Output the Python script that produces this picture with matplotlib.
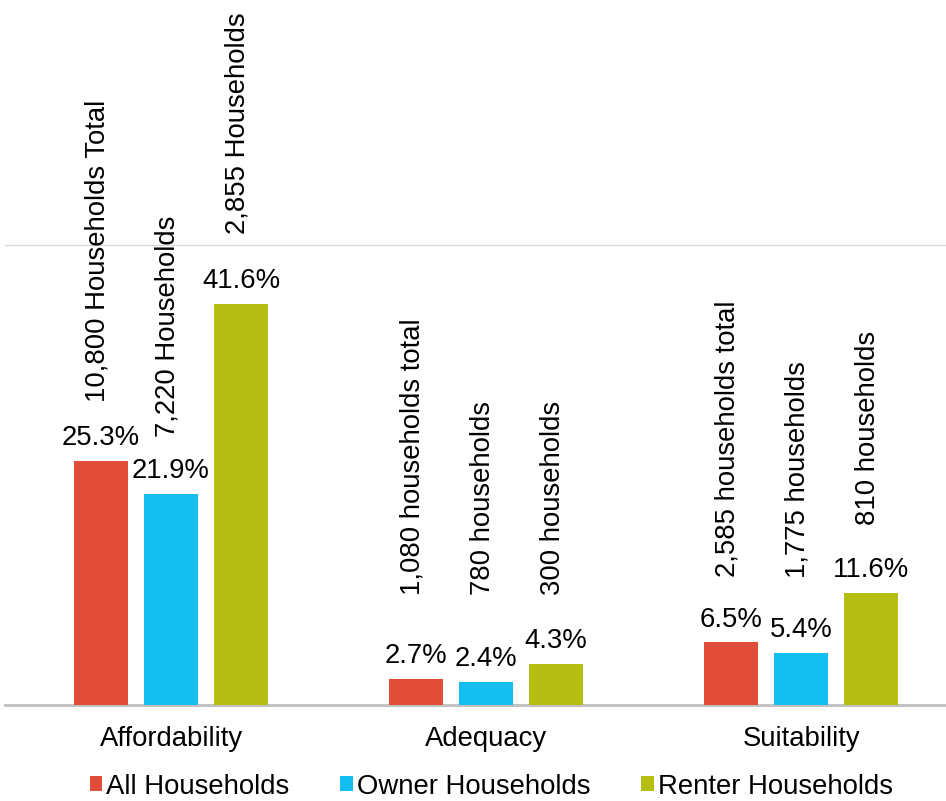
import matplotlib.pyplot as plt
import numpy as np

plt.rcParams['font.family'] = ['Liberation Sans', 'DejaVu Sans']

# categories and series (percent of households)
categories = ['Affordability', 'Adequacy', 'Suitability']
series_names = ['All Households', 'Owner Households', 'Renter Households']
all_hh = [25.3, 2.7, 6.5]
owner_hh = [21.9, 2.4, 5.4]
renter_hh = [41.6, 4.3, 11.6]

# household count labels shown above each bar
all_counts = ['10,800 Households Total', '1,080 households total', '2,585 households total']
owner_counts = ['7,220 Households', '780 households', '1,775 households']
renter_counts = ['2,855 Households', '300 households', '810 households']

colors = ['#E04E3A', '#14BEF0', '#B6BE14']

# where the rotated count labels start (data units), per series / category
count_label_y = [
    [31.4, 11.4, 13.3],
    [27.8, 11.4, 13.2],
    [48.8, 11.4, 18.7],
]

FS = 19.8

fig = plt.figure(figsize=(9.46, 8.01), dpi=100)
ax = fig.add_axes([5 / 946, 96 / 801, 941 / 946, 705 / 801])

x = np.arange(len(categories))
step = 0.222
width = 0.172
values = [all_hh, owner_hh, renter_hh]
counts = [all_counts, owner_counts, renter_counts]

for i, (vals, name, col) in enumerate(zip(values, series_names, colors)):
    xs = x + (i - 1) * step
    bars = ax.bar(xs, vals, width, color=col, label=name, zorder=3)
    for b, v in zip(bars, vals):
        ax.annotate(f'{v:.1f}%', (b.get_x() + b.get_width() / 2, v),
                    xytext=(0, 7), textcoords='offset points',
                    ha='center', va='bottom', fontsize=FS, color='black')
    for j, (xx, lab) in enumerate(zip(xs, counts[i])):
        ax.text(xx - 0.01, count_label_y[i][j], lab, rotation=90,
                ha='center', va='bottom', fontsize=FS, color='black')

ax.axhline(47.7, color='#D9D9D9', linewidth=1, zorder=1)

ax.set_xlim(-0.527, 2.46)
ax.set_ylim(0, 73.1)
ax.set_xticks(x)
ax.set_xticklabels(categories, fontsize=FS)
ax.tick_params(axis='x', length=0, pad=15)
ax.set_yticks([])

for s in ['top', 'right', 'left']:
    ax.spines[s].set_visible(False)
ax.spines['bottom'].set_color('#BFBFBF')
ax.spines['bottom'].set_linewidth(2)

fig.legend(loc='center', bbox_to_anchor=(491 / 946, 0.018), ncol=3,
           frameon=False, fontsize=FS, handlelength=0.46, handleheight=0.46,
           handletextpad=0.14, columnspacing=1.85, borderpad=0, borderaxespad=0)

fig.savefig('out.png', dpi=100)
